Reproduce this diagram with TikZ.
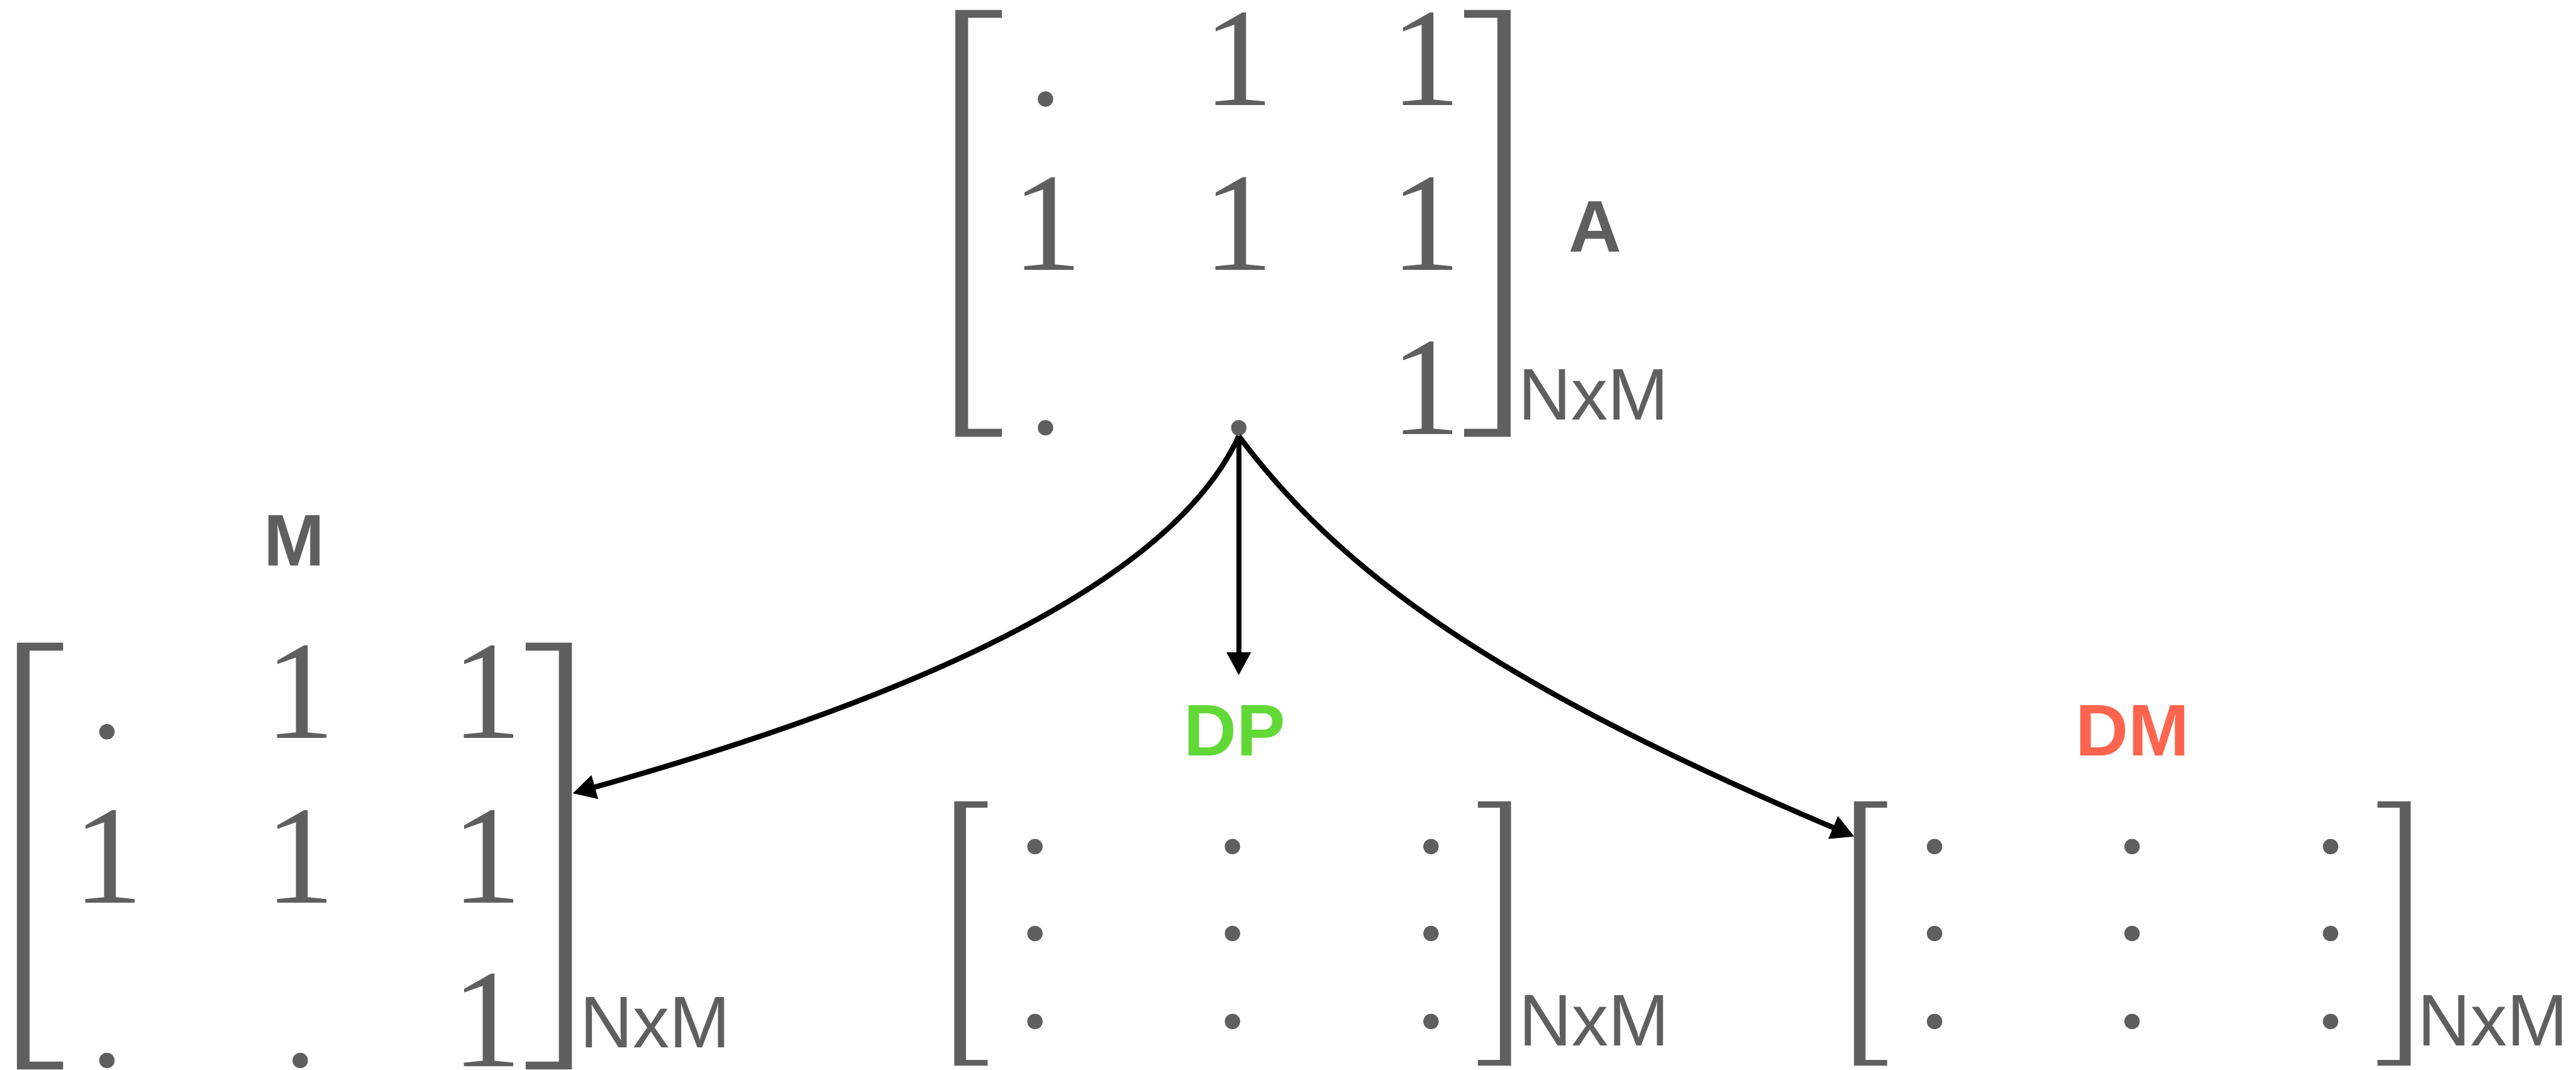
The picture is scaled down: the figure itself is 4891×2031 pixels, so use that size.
\documentclass[tikz,border=0pt]{standalone}
\usepackage{fontspec}
\setmainfont{Liberation Sans}
\newfontfamily\onefont{Liberation Serif}
\usetikzlibrary{arrows.meta}
\definecolor{gr}{HTML}{5F5F5F}
\definecolor{dpgreen}{HTML}{61D836}
\definecolor{dmred}{HTML}{FF644E}
% matrix of ones (3x3 with dots), drawn relative to the current scope
\newcommand{\onesmat}[1]{%
  \fill[brk] (1814,19) -- (1902,19) -- (1902,34) -- (1838,34) -- (1838,814) -- (1902,814) -- (1902,829) -- (1814,829) -- cycle;
  \fill[brk] (2868,19) -- (2780,19) -- (2780,34) -- (2843,34) -- (2843,814) -- (2780,814) -- (2780,829) -- (2868,829) -- cycle;
  \node[pt]  (#1-11) at (1985,188) {};
  \node[one] (#1-12) at (2352,200) {1};
  \node[one] (#1-13) at (2707,200) {1};
  \node[one] (#1-21) at (1988,513) {1};
  \node[one] (#1-22) at (2352,513) {1};
  \node[one] (#1-23) at (2707,513) {1};
  \node[pt]  (#1-31) at (1985,812) {};
  \node[pt]  (#1-32) at (2352,812) {};
  \node[one] (#1-33) at (2707,824) {1};
}
% matrix of dots
\newcommand{\dotsmat}[1]{%
  \fill[brk] (1812,1521) -- (1875,1521) -- (1875,1533) -- (1834,1533) -- (1834,2012) -- (1875,2012) -- (1875,2023) -- (1812,2023) -- cycle;
  \fill[brk] (2869,1521) -- (2806,1521) -- (2806,1533) -- (2848,1533) -- (2848,2012) -- (2806,2012) -- (2806,2023) -- (2869,2023) -- cycle;
  \node[pt] (#1-11) at (1965,1607) {};
  \node[pt] (#1-12) at (2340,1607) {};
  \node[pt] (#1-13) at (2717,1607) {};
  \node[pt] (#1-21) at (1965,1772) {};
  \node[pt] (#1-22) at (2340,1772) {};
  \node[pt] (#1-23) at (2717,1772) {};
  \node[pt] (#1-31) at (1965,1939) {};
  \node[pt] (#1-32) at (2340,1939) {};
  \node[pt] (#1-33) at (2717,1939) {};
}
\begin{document}
\begin{tikzpicture}[x=0.2pt, y=-0.2pt,
  one/.style={anchor=base, inner sep=0pt, text=gr, font=\onefont\fontsize{53.25}{60}\selectfont},
  pt/.style={circle, fill=gr, inner sep=0pt, minimum size=5.9pt},
  lbl/.style={anchor=base, inner sep=0pt, font=\bfseries\fontsize{27.77}{30}\selectfont},
  dimlbl/.style={anchor=base west, inner sep=0pt, text=gr, font=\fontsize{27.77}{30}\selectfont},
  brk/.style={fill=gr},
  conn/.style={line width=2pt, draw=black, -{Triangle[length=8.8pt,width=8.8pt]}}]
\useasboundingbox (0,0) rectangle (4891,2031);

% matrix A
\onesmat{A}
\node[lbl, text=gr] (labA) at (3029,478) {A};
\node[dimlbl] (dimA) at (2882,797) {NxM};

% matrix M
\begin{scope}[shift={(-1782,1201)}]
  \onesmat{M}
\end{scope}
\node[lbl, text=gr] (labM) at (559,1074) {M};
\node[dimlbl] (dimM) at (1100,1989) {NxM};

% matrix DP
\dotsmat{DP}
\node[lbl, text=dpgreen] (labDP) at (2344,1435) {DP};
\node[dimlbl] (dimDP) at (2883,1985) {NxM};

% matrix DM
\begin{scope}[shift={(1708,0)}]
  \dotsmat{DM}
\end{scope}
\node[lbl, text=dmred] (labDM) at (4049,1435) {DM};
\node[dimlbl] (dimDM) at (4590,1985) {NxM};

% arrow targets
\coordinate (tM) at (1087,1506);
\coordinate (tDP) at (2352,1282);
\coordinate (tDM) at (3521,1588);

\draw[conn] (A-32.south) .. controls (2226,1101) and (1759,1317) .. (tM);
\draw[conn] (A-32.south) -- (tDP);
\draw[conn] (A-32.south) .. controls (2544,1084) and (2831,1296) .. (tDM);
\end{tikzpicture}
\end{document}
